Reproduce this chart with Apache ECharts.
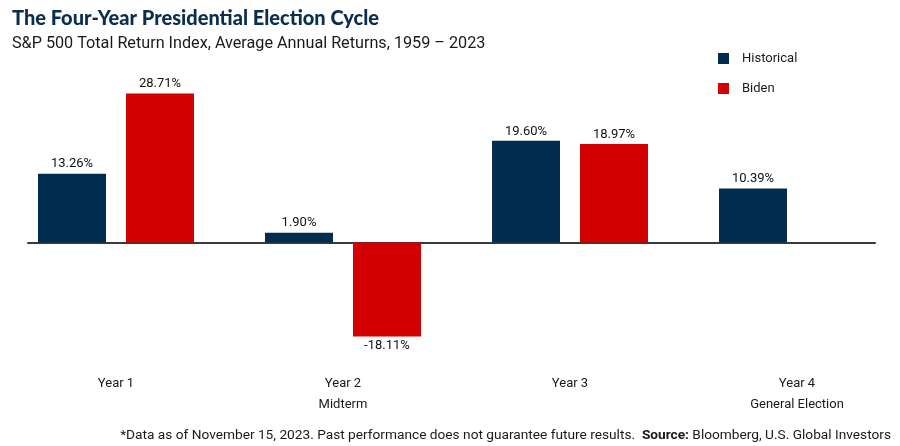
<!DOCTYPE html>
<html>
<head>
<meta charset="utf-8">
<script src="https://cdn.jsdelivr.net/npm/echarts@6/dist/echarts.min.js"></script>
<style>html,body{margin:0;padding:0;background:#fff}#c{width:900px;height:446px}</style>
</head>
<body>
<div id="c"></div>
<script>
const categories = ['Year 1', 'Year 2\nMidterm', 'Year 3', 'Year 4\nGeneral Election'];
const historical = [13.26, 1.90, 19.60, 10.39];
const biden = [28.71, -18.11, 18.97, null];
const seriesNames = ['Historical', 'Biden'];

function toData(arr) {
  return arr.map(v => v == null ? null : (v < 0 ? { value: v, label: { position: 'bottom' } } : v));
}
const labelFmt = p => p.value.toFixed(2) + '%';
const font = 'Roboto, "Noto Sans", sans-serif';

const chart = echarts.init(document.getElementById('c'));
chart.setOption({
  animation: false,
  backgroundColor: '#fff',
  title: [
    { text: 'The Four-Year Presidential Election Cycle', left: 7, top: 4,
      textStyle: { fontFamily: 'Lato, Inter, sans-serif', fontWeight: 900, fontSize: 20, color: '#0b2e4f' } },
    { text: 'S&P 500 Total Return Index, Average Annual Returns, 1959 \u2013 2023', left: 7, top: 31,
      textStyle: { fontFamily: font, fontWeight: 'normal', fontSize: 16.2, color: '#1a1a1a' } },
    { text: '*Data as of November 15, 2023. Past performance does not guarantee future results.  {b|Source:} Bloomberg, U.S. Global Investors',
      right: 4, top: 424,
      textStyle: { fontFamily: font, fontWeight: 'normal', fontSize: 13.7, color: '#1a1a1a',
        rich: { b: { fontFamily: font, fontWeight: 'bold', fontSize: 13.7, color: '#1a1a1a' } } } }
  ],
  legend: {
    orient: 'vertical', left: 713, top: 47, itemWidth: 11, itemHeight: 11, itemGap: 17,
    icon: 'rect', data: seriesNames,
    textStyle: { fontFamily: font, fontSize: 13, color: '#1a1a1a', padding: [0, 0, 0, 8] }
  },
  grid: [
    { left: 116, right: 103, top: 60.85, bottom: 73.75 },
    { left: 28, right: 25, top: 60.85, bottom: 73.75 }
  ],
  xAxis: [
    { type: 'category', gridIndex: 0, data: categories, boundaryGap: false,
      axisLine: { show: false, onZero: false }, axisTick: { show: false },
      axisLabel: { fontFamily: font, fontSize: 13, color: '#1a1a1a', lineHeight: 21, margin: 1 } },
    { type: 'value', gridIndex: 1, min: 0, max: 1,
      axisLine: { show: true, onZero: true, lineStyle: { color: '#3a3a3a', width: 2 } },
      axisTick: { show: false }, axisLabel: { show: false }, splitLine: { show: false } }
  ],
  yAxis: [
    { type: 'value', gridIndex: 0, min: -25, max: 35, show: false, splitLine: { show: false } },
    { type: 'value', gridIndex: 1, min: -25, max: 35, show: false, splitLine: { show: false } }
  ],
  series: [
    { name: seriesNames[0], type: 'bar', xAxisIndex: 0, yAxisIndex: 0, data: toData(historical),
      clip: false, barWidth: 68, barGap: '29.4%', itemStyle: { color: '#022d4e' },
      label: { show: true, position: 'top', distance: 3, formatter: labelFmt,
        fontFamily: font, fontSize: 13, color: '#111' } },
    { name: seriesNames[1], type: 'bar', xAxisIndex: 0, yAxisIndex: 0, data: toData(biden),
      clip: false, barWidth: 68, barGap: '29.4%', itemStyle: { color: '#d20000' },
      label: { show: true, position: 'top', distance: 3, formatter: labelFmt,
        fontFamily: font, fontSize: 13, color: '#111' } }
  ]
});
</script>
</body>
</html>
